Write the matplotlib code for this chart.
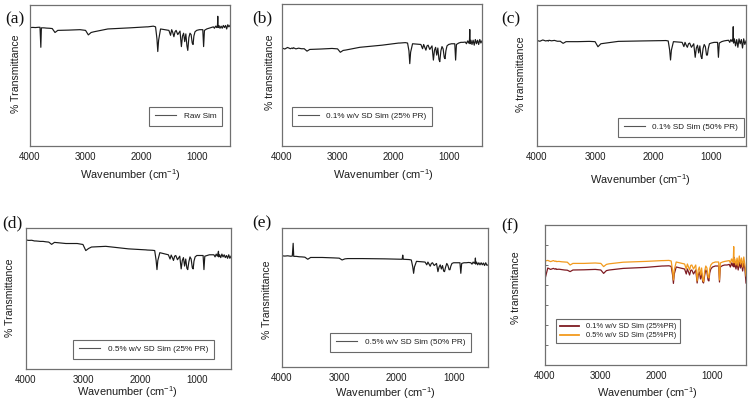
import matplotlib
matplotlib.use("Agg")
import matplotlib.pyplot as plt

# ---------------- data ----------------
wavenumber = [4000, 3950, 3900, 3850, 3820,
              3805, 3795, 3750, 3700, 3650,
              3600, 3550, 3500, 3300, 3100,
              3000, 2950, 2900, 2850, 2600,
              2200, 1900, 1890, 1880, 1780,
              1740, 1715, 1700, 1685, 1650,
              1500, 1470, 1450, 1430, 1410,
              1390, 1370, 1340, 1300, 1275,
              1255, 1235, 1215, 1195, 1175,
              1160, 1140, 1120, 1100, 1080,
              1065, 1050, 1030, 1000, 950,
              890, 875, 860, 820, 780,
              740, 700, 680, 660, 640,
              625, 620, 615, 600, 580,
              560, 540, 520, 500, 480,
              460, 440, 420, 400]

t_raw = [84, 84.1, 84, 84.2, 84.2,
         70, 83.8, 83.8, 83.6, 83.5,
         83.3, 80.5, 82, 82.2, 82.5,
         82, 78.8, 80.5, 81, 83,
         83.8, 84.5, 84.5, 84.5, 85,
         84.5, 76, 67, 75, 83,
         82, 78.5, 82.5, 80.5, 77.5,
         81, 82, 79, 81.5, 70.5,
         78, 80, 74, 79.5, 71,
         67.8, 77, 80, 79, 73,
         72, 78, 81, 82, 82.5,
         82.5, 70.5, 82, 83, 83.5,
         84, 84.5, 83.5, 85, 84,
         86, 92, 84, 85.5, 83.5,
         85, 83.5, 85.5, 84, 85.5,
         83, 86, 84.5, 85.5]

t_01_25 = [69, 68.3, 69.4, 68.5, 69,
           68.6, 69.2, 68.4, 68.9, 68.5,
           68.5, 66.8, 68, 68.3, 68.7,
           68.4, 66, 67.3, 67.6, 69.5,
           71, 72.5, 72.5, 72.5, 72.8,
           72.5, 67, 58, 66, 72,
           71.5, 68.5, 71.5, 69.5, 67.5,
           70.5, 71, 68, 70.5, 60.5,
           67.5, 69.5, 64, 69, 61,
           59.4, 67, 70, 68.5, 62.5,
           61.5, 67, 70.5, 71.5, 72,
           72, 60.5, 71.5, 72.5, 73,
           73, 73.2, 72, 74, 72.5,
           75, 82, 72, 74.5, 71.5,
           74.5, 71, 75, 72, 74.5,
           71.5, 75, 72.5, 74]

t_01_50 = [74.8, 74.3, 75.2, 74.5, 74.8,
           74.4, 75, 74.6, 74.9, 74.3,
           74.3, 72.8, 74, 74, 74.2,
           74, 70.4, 72.5, 72.8, 74.2,
           74.5, 74.7, 74.7, 74.7, 74.8,
           74.5, 68, 61, 68, 74,
           73.5, 70.5, 73.5, 71.5, 70,
           72.5, 73, 70, 72.5, 62.9,
           69.5, 71.5, 66, 71, 63.5,
           62, 69, 72, 70.5, 64.5,
           64.5, 69, 72.5, 73, 73.5,
           73.5, 62.9, 73, 74, 74.5,
           74.8, 75, 73.5, 75.5, 74,
           76, 84.6, 73, 76, 71,
           75.5, 70, 76, 72.5, 75.5,
           69.5, 76, 72, 74.5]

t_05_25 = [91.5, 91.2, 91.3, 90.8, 90.8,
           90.7, 90.7, 90.5, 90.5, 90.2,
           90, 88.4, 89.8, 89, 89,
           88.3, 84, 85.5, 86.5, 87,
           85.2, 84.5, 84.5, 84.4, 84.2,
           84, 77, 70.5, 77, 82.5,
           81, 78, 80.8, 79, 77,
           80, 80.5, 77.5, 80, 71,
           77, 79, 73, 78, 71.5,
           70.5, 76, 79.5, 78, 72,
           71, 76.5, 79.5, 80.5, 80.5,
           80.5, 70.5, 80, 80.5, 81,
           81, 81, 79.5, 81.5, 80,
           82.5, 83.5, 79.5, 81, 79,
           81.5, 79.5, 81, 79, 80.5,
           78.5, 81, 78.5, 80]

t_05_50 = [80, 79.8, 80, 79.7, 79.8,
           89, 79.6, 79.6, 79.3, 79.2,
           79, 77.5, 78.8, 78.8, 78.5,
           78.3, 77, 77.8, 78, 78,
           77.8, 77.5, 80.5, 77.5, 77.3,
           77, 72, 67.4, 72, 76,
           75.5, 73.5, 75.5, 74, 72.5,
           74.5, 75, 73, 74.5, 68.6,
           72, 73.5, 70.5, 73, 69,
           68.6, 72, 74.5, 73, 70,
           70, 72.5, 74.5, 75, 75,
           75, 67.4, 74.5, 75, 75,
           75.2, 75, 74, 75.5, 74.5,
           76, 78.4, 74, 75.5, 73.5,
           75, 73.5, 75, 73.5, 74.8,
           73, 75, 73.2, 73.4]

t_f_01_25 = [43, 48.5, 47.8, 48.3, 47.9,
             48.2, 47.8, 47.9, 47.7, 47.5,
             47.4, 46.7, 47.5, 47.6, 47.8,
             47.5, 45.8, 47.2, 47.5, 48.3,
             48.8, 49.5, 49.5, 49.5, 49.6,
             49.3, 45, 40.8, 45.5, 49,
             48, 45.5, 48, 46.5, 45,
             47.3, 47.5, 45.5, 47.5, 41,
             45, 46.5, 43, 46, 41.5,
             41, 45, 47.5, 46.5, 42.5,
             42, 46, 48, 49, 49.5,
             49.5, 41.5, 49, 49.7, 50,
             50, 50.3, 49, 51, 49.5,
             51.5, 54, 49, 51, 48,
             51, 47.5, 51.5, 48.5, 51,
             47, 51, 48, 41]

t_f_05_25 = [52, 52.3, 51.7, 52.2, 51.8,
             52, 51.7, 51.8, 51.6, 51.5,
             51.4, 50, 50.8, 50.8, 51,
             50.8, 49.2, 50.3, 50.6, 51.4,
             51.8, 52.2, 52.2, 52.2, 52.3,
             52, 47, 42.5, 47.5, 51.5,
             50.5, 48, 50.5, 49, 47.5,
             49.8, 50, 48, 50, 42,
             47.5, 49, 45, 48.5, 42.5,
             41.7, 47, 49.5, 48.5, 44,
             43.5, 48, 50, 51, 51.5,
             51.5, 42.5, 51, 51.5, 51.8,
             52, 52.2, 51, 53, 51.5,
             54, 59.2, 51, 53, 50,
             53.5, 49.5, 54.5, 50.5, 53.5,
             49, 54, 50, 44.5]

x_ticks = [4000, 3000, 2000, 1000]
panel_tags = ["(a)", "(b)", "(c)", "(d)", "(e)", "(f)"]
y_titles = ["% Transmittance", "% transmittance", "% transmittance",
            "% Transmittance", "% Transmittance", "% transmitance"]
legend_names = ["Raw Sim", "0.1% w/v SD Sim (25% PR)", "0.1% SD Sim (50% PR)",
                "0.5% w/v SD Sim (25% PR)", "0.5% w/v SD Sim (50% PR)"]
legend_names_f = ["0.1% w/v SD Sim (25%PR)", "0.5% w/v SD Sim (25%PR)"]

# ---------------- layout ----------------
W, H = 750, 409
fig = plt.figure(figsize=(W / 100, H / 100), dpi=100)
fig.patch.set_facecolor("white")

SANS = ["Liberation Sans", "DejaVu Sans"]
SERIF = ["Liberation Serif", "DejaVu Serif"]
plt.rcParams["font.family"] = SANS
plt.rcParams["mathtext.fontset"] = "custom"
plt.rcParams["mathtext.rm"] = "Liberation Sans"
plt.rcParams["mathtext.it"] = "Liberation Sans"
plt.rcParams["mathtext.default"] = "regular"

# pixel boxes: left, top, right, bottom
boxes = [(30, 5, 230, 146), (282, 4, 482, 146), (537, 5, 746, 146),
         (26, 228, 231, 369), (282, 228, 488, 367), (545, 225, 746, 365)]
tag_pos = [(5, 19), (252, 18), (501, 19), (2, 223), (252, 223), (501, 226)]
ylab_pos = [(15.7, 74), (270, 72), (521, 74), (10, 298), (267, 300), (516, 288)]
xlab_pos = [(130, 175), (383, 175), (640, 180), (127, 392), (385, 393), (647, 393)]
# legend anchors (axes fraction) and loc
leg_cfg = [((0.96, 0.142), "lower right"), ((0.05, 0.141), "lower left"),
           ((0.99, 0.064), "lower right"), ((0.917, 0.071), "lower right"),
           ((0.918, 0.108), "lower right"), ((0.055, 0.157), "lower left")]

series = [t_raw, t_01_25, t_01_50, t_05_25, t_05_50]

spine_col = "#707070"
line_col = "#1a1a1a"
text_col = "#1e1e1e"


def make_axes(i):
    l, t, r, b = boxes[i]
    ax = fig.add_axes([l / W, 1 - b / H, (r - l) / W, (b - t) / H])
    for s in ax.spines.values():
        s.set_color(spine_col)
        s.set_linewidth(0.9)
    ax.set_xlim(4000, 400)
    ax.set_xticks(x_ticks)
    ax.set_xticklabels([str(v) for v in x_ticks])
    ax.tick_params(axis="x", length=0, pad=4.0, labelsize=7.0, colors=text_col)
    ax.set_yticks([])
    ax.set_xlabel("Wavenumber (cm$^{-1}$)", fontsize=7.9, color=text_col)
    ax.set_ylabel(y_titles[i], fontsize=7.6, color=text_col)
    xl, yl = xlab_pos[i]
    ax.xaxis.set_label_coords((xl - l) / (r - l), (b - yl) / (b - t))
    ax.xaxis.label.set_va("center")
    xl, yl = ylab_pos[i]
    ax.yaxis.set_label_coords((xl - l) / (r - l), (b - yl) / (b - t))
    ax.yaxis.label.set_va("center")
    fig.text(tag_pos[i][0] / W, 1 - tag_pos[i][1] / H, panel_tags[i],
             fontsize=12.5, family=SERIF, va="center", ha="left", color="#111111")
    return ax


for i in range(5):
    ax = make_axes(i)
    ax.set_ylim(0, 100)
    ax.plot(wavenumber, series[i], color=line_col, lw=0.85, label=legend_names[i])
    anchor, loc = leg_cfg[i]
    leg = ax.legend(loc=loc, bbox_to_anchor=anchor, borderaxespad=0, fontsize=5.9,
                    frameon=True, fancybox=False, edgecolor="#444444",
                    handlelength=2.6, handletextpad=0.9, borderpad=0.7)
    leg.get_frame().set_linewidth(0.8)
    for h in leg.get_lines():
        h.set_color("#555555")
        h.set_linewidth(0.8)
    for tx in leg.get_texts():
        tx.set_color(text_col)

ax = make_axes(5)
ax.set_ylim(0, 70)
ax.set_yticks(range(0, 71, 10))
ax.set_yticklabels([])
ax.tick_params(axis="y", direction="in", length=2.5, width=0.7, colors=spine_col)
ax.plot(wavenumber, t_f_01_25, color="#7e1b22", lw=0.9, label=legend_names_f[0])
ax.plot(wavenumber, t_f_05_25, color="#f29a1e", lw=0.9, label=legend_names_f[1])
anchor, loc = leg_cfg[5]
leg = ax.legend(loc=loc, bbox_to_anchor=anchor, borderaxespad=0, fontsize=5.4,
                frameon=True, fancybox=False, edgecolor="#444444",
                handlelength=2.6, handletextpad=0.9, borderpad=0.5, labelspacing=0.25)
leg.get_frame().set_linewidth(0.8)
for h in leg.get_lines():
    h.set_linewidth(1.3)
for tx in leg.get_texts():
    tx.set_color(text_col)

fig.savefig("out.png", dpi=100, facecolor="white")
